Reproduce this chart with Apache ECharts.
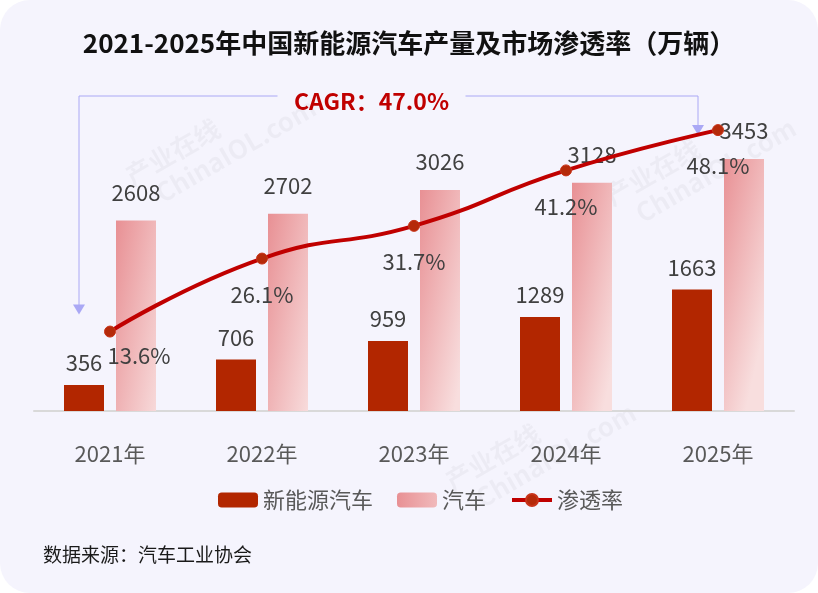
<!DOCTYPE html>
<html>
<head>
<meta charset="utf-8">
<script src="https://cdn.jsdelivr.net/npm/echarts@6/dist/echarts.min.js"></script>
<style>
  html, body { margin: 0; padding: 0; background: #fff; }
  #chart { width: 818px; height: 593px; }
</style>
</head>
<body>
<div id="chart"></div>
<script>
// 数据
const years = ["2021年", "2022年", "2023年", "2024年", "2025年"];
const nevOutput = [356, 706, 959, 1289, 1663];
const carOutput = [2608, 2702, 3026, 3128, 3453];
const penetration = [13.6, 26.1, 31.7, 41.2, 48.1];
const cagrText = "CAGR：47.0%";

const FONT = "Noto Sans CJK SC";
const chart = echarts.init(document.getElementById("chart"));

// 汽车柱子渐变（左上深 → 右下浅）
const carGradient = new echarts.graphic.LinearGradient(0, 0, 1.9, 0.07, [
  { offset: 0, color: "#e89094" },
  { offset: 1, color: "#f8dede" }
]);

const option = {
  backgroundColor: "#ffffff",
  textStyle: { fontFamily: FONT },
  title: {
    text: "2021-2025年中国新能源汽车产量及市场渗透率（万辆）",
    left: "center",
    top: 25,
    textStyle: { fontSize: 26, fontWeight: "bold", color: "#111111", fontFamily: FONT }
  },
  grid: { left: 34, right: 24, top: 119, bottom: 182 },
  legend: {
    bottom: 77,
    left: 213,
    itemWidth: 40,
    itemHeight: 15,
    itemGap: 24,
    textStyle: { fontSize: 22, color: "#595959", fontFamily: FONT },
    data: [
      "新能源汽车",
      "汽车",
      { name: "渗透率", lineStyle: { width: 4, color: "#c00000" } }
    ]
  },
  xAxis: {
    type: "category",
    data: years,
    axisLine: { lineStyle: { color: "#d9d9d9", width: 2 } },
    axisTick: { show: false },
    axisLabel: { fontSize: 22, color: "#595959", margin: 32, fontFamily: FONT }
  },
  yAxis: [
    { type: "value", min: 0, max: 4000, show: false, splitLine: { show: false } },
    { type: "value", min: 0, max: 50, show: false, splitLine: { show: false } }
  ],
  series: [
    {
      name: "新能源汽车",
      type: "bar",
      data: nevOutput,
      barWidth: 40,
      barGap: "30%",
      itemStyle: { color: "#b22600" },
      label: {
        show: true, position: "top", distance: 11,
        fontSize: 22, color: "#404040", fontFamily: FONT
      }
    },
    {
      name: "汽车",
      type: "bar",
      data: carOutput,
      barWidth: 40,
      itemStyle: { color: carGradient },
      label: {
        show: true, position: "top", distance: 17,
        fontSize: 22, color: "#404040", fontFamily: FONT
      }
    },
    {
      name: "渗透率",
      type: "line",
      yAxisIndex: 1,
      smooth: true,
      z: 5,
      data: penetration.map((v, i) => i === 0
        ? { value: v, label: { offset: [29, -12] } }
        : v),
      symbol: "circle",
      symbolSize: 11,
      lineStyle: { color: "#c00000", width: 4 },
      itemStyle: { color: "#b52a0a", borderColor: "#c8341a", borderWidth: 1 },
      label: {
        show: true, position: "bottom", distance: 19,
        fontSize: 22, color: "#404040", fontFamily: FONT,
        formatter: p => p.value + "%"
      }
    }
  ]
};
chart.setOption(option);

// CAGR 标注及背景
const drawExtras = () => {
  const p0 = chart.convertToPixel({ seriesIndex: 2 }, [0, penetration[0]]);
  const p4 = chart.convertToPixel({ seriesIndex: 2 }, [4, penetration[4]]);
  const topY = 96;
  const lx = p0[0] - 31, ly = p0[1] - 17;
  const rx = p4[0] - 20, ry = p4[1] + 5;
  const midX = (lx + rx) / 2 - 17;
  const arrowColor = "#aaa8f5";
  const wm = (x, y) => ({
    type: "text", x: x, y: y, rotation: Math.PI / 6, silent: true, z: -1,
    style: {
      text: "产业在线\n   ChinaIOL.com", fill: "rgba(0,0,0,0.035)",
      font: "bold 26px " + FONT, lineHeight: 30
    }
  });
  chart.setOption({
    graphic: [
      {
        type: "rect", z: -10, silent: true,
        shape: { x: 0, y: 0, width: 818, height: 593, r: 30 },
        style: { fill: "#f5f4fd" }
      },
      wm(120, 165), wm(600, 185), wm(440, 470),
      {
        type: "polyline", silent: true,
        shape: { points: [[lx, ly - 8], [lx, topY], [midX - 94, topY]] },
        style: { stroke: arrowColor, lineWidth: 1, fill: null }
      },
      {
        type: "polyline", silent: true,
        shape: { points: [[midX + 94, topY], [rx, topY], [rx, ry - 8]] },
        style: { stroke: arrowColor, lineWidth: 1, fill: null }
      },
      {
        type: "polygon", silent: true,
        shape: { points: [[lx - 6, ly - 10], [lx + 6, ly - 10], [lx, ly]] },
        style: { fill: arrowColor }
      },
      {
        type: "polygon", silent: true,
        shape: { points: [[rx - 6, ry - 10], [rx + 6, ry - 10], [rx, ry]] },
        style: { fill: arrowColor }
      },
      {
        type: "text", x: midX, y: topY + 5,
        style: {
          text: cagrText, fill: "#c00000", font: "bold 23px " + FONT,
          align: "center", verticalAlign: "middle"
        }
      },
      {
        type: "text", left: 43, top: 545,
        style: { text: "数据来源：汽车工业协会", fill: "#1a1a1a", font: "19px " + FONT }
      }
    ]
  });
};
drawExtras();
</script>
</body>
</html>
